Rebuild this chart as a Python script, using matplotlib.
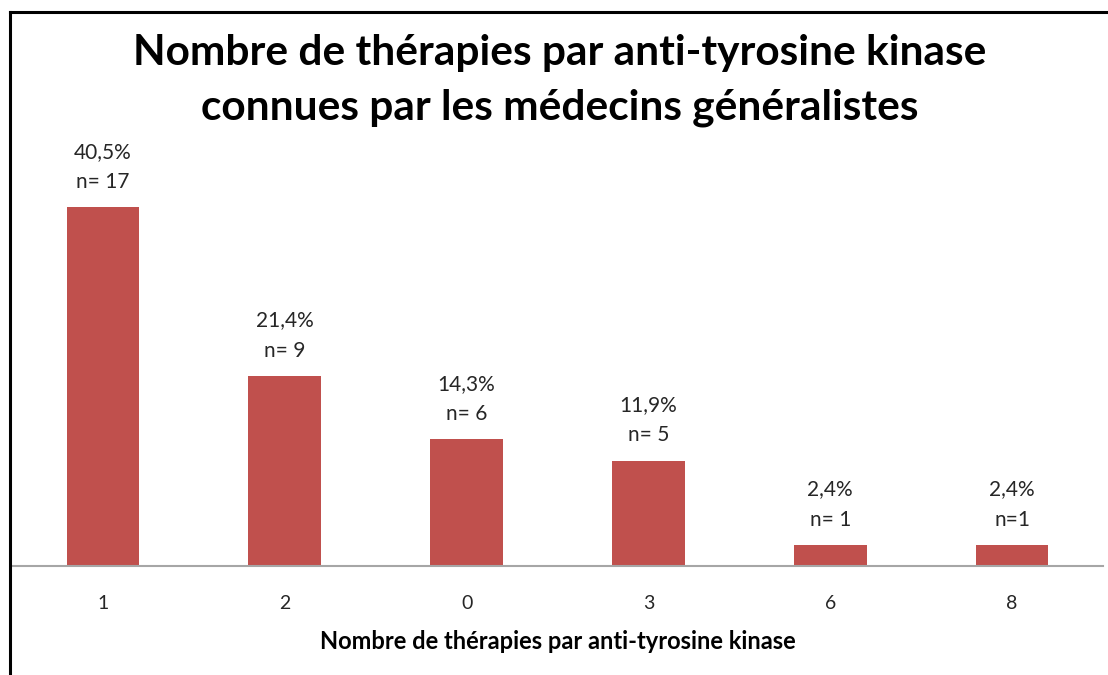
import matplotlib
matplotlib.use("Agg")
import matplotlib.pyplot as plt
from matplotlib.lines import Line2D

plt.rcParams['font.family'] = ['Lato', 'DejaVu Sans']

# données
categories = ['1', '2', '0', '3', '6', '8']
effectifs = [17, 9, 6, 5, 1, 1]
pourcentages = ['40,5%', '21,4%', '14,3%', '11,9%', '2,4%', '2,4%']
etiquettes_n = ['n= 17', 'n= 9', 'n= 6', 'n= 5', 'n= 1', 'n=1']

fig = plt.figure(figsize=(11.08, 6.75), dpi=100)
ax = fig.add_axes([0.0108, 0.1615, 0.9847, 0.625])

x = range(len(categories))
bars = ax.bar(x, effectifs, width=0.4, color='#C0504D')

for rect, pct, n in zip(bars, pourcentages, etiquettes_n):
    h = rect.get_height()
    ax.annotate(pct + '\n' + n, (rect.get_x() + rect.get_width() / 2, h),
                xytext=(0, 11), textcoords='offset points',
                ha='center', va='bottom', fontsize=15, color='#262626',
                linespacing=1.65)

ax.set_xlim(-0.5, len(categories) - 0.5)
ax.set_ylim(0, 20)
ax.set_xticks(list(x))
ax.set_xticklabels(categories, fontsize=14, color='#262626')
ax.tick_params(axis='x', length=0, pad=21)
ax.set_yticks([])
for side in ['top', 'right', 'left']:
    ax.spines[side].set_visible(False)
ax.spines['bottom'].set_color('#A6A6A6')
ax.spines['bottom'].set_linewidth(1.5)
ax.set_xlabel('Nombre de thérapies par anti-tyrosine kinase',
              fontsize=17, fontweight='bold', labelpad=13)

fig.text(0.505, 0.881, 'Nombre de thérapies par anti-tyrosine kinase\nconnues par les médecins généralistes',
         ha='center', va='center', fontsize=30.5, fontweight='bold', linespacing=1.55)

# cadre (haut et gauche)
fig.add_artist(Line2D([0.0086, 1.0], [0.982, 0.982], color='black', linewidth=2.2))
fig.add_artist(Line2D([0.0086, 0.0086], [0.0, 0.982], color='black', linewidth=2.2))

fig.savefig('out.png', dpi=100)
